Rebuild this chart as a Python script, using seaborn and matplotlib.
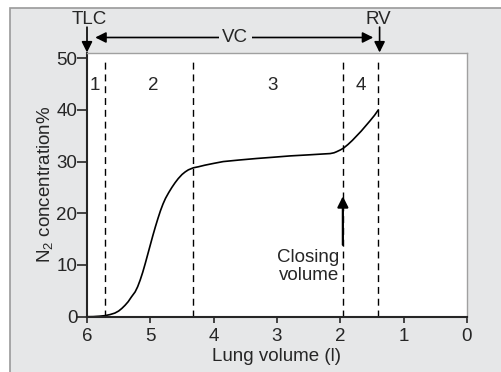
import matplotlib
matplotlib.use("Agg")
import matplotlib.pyplot as plt
import seaborn as sns
from matplotlib.patches import Rectangle

# Single-breath nitrogen washout curve
volume = [6.00, 5.90, 5.80, 5.72, 5.64, 5.56, 5.50, 5.45, 5.40, 5.35, 5.30,
          5.24, 5.20, 5.16, 5.12, 5.08, 5.04, 5.00, 4.96, 4.92, 4.88, 4.84,
          4.80, 4.76, 4.71, 4.66, 4.61, 4.56, 4.50, 4.45, 4.40, 4.32, 4.24,
          4.14, 4.00, 3.85, 3.60, 3.32, 3.05, 2.79, 2.50, 2.30, 2.16, 2.10,
          2.06, 2.00, 1.95, 1.88, 1.81, 1.74, 1.67, 1.60, 1.53, 1.46, 1.40]
n2_conc = [0.0, 0.02, 0.1, 0.2, 0.4, 0.7, 1.1, 1.6, 2.2, 2.9, 3.8,
           4.8, 5.8, 7.1, 8.6, 10.3, 12.1, 13.9, 15.7, 17.4, 19.0, 20.5,
           21.8, 22.9, 24.0, 25.0, 25.9, 26.7, 27.5, 28.0, 28.4, 28.8, 29.0,
           29.3, 29.65, 30.0, 30.3, 30.6, 30.85, 31.1, 31.3, 31.45, 31.55, 31.7,
           31.9, 32.25, 32.6, 33.3, 34.1, 35.0, 35.9, 36.9, 37.9, 38.95, 40.0]

phase_bounds = [5.72, 4.32, 1.96, 1.40]
phase_labels = ["1", "2", "3", "4"]
phase_label_x = [5.87, 4.96, 3.07, 1.67]

x_ticks = [6, 5, 4, 3, 2, 1, 0]
y_ticks = [0, 10, 20, 30, 40, 50]

sns.set_style("ticks")
plt.rcParams["font.family"] = ["Liberation Sans", "DejaVu Sans"]
plt.rcParams["mathtext.fontset"] = "custom"
plt.rcParams["mathtext.rm"] = "Liberation Sans"
plt.rcParams["mathtext.it"] = "Liberation Sans"

fs = 13.5
bg = "#e6e7e8"
fig = plt.figure(figsize=(5.01, 3.72), dpi=100, facecolor="white")
fig.patches.append(Rectangle((10 / 501, -0.1), 1.1, 1.1 - 8 / 372,
                             transform=fig.transFigure, facecolor=bg,
                             edgecolor="#9a9a9a", lw=1.2, zorder=-10))
ax = fig.add_axes([87 / 501, 55.3 / 372, 380 / 501, 263.7 / 372])
ax.set_facecolor("white")

sns.lineplot(x=volume, y=n2_conc, sort=False, color="black", lw=1.2, ax=ax)

for b in phase_bounds:
    ax.vlines(b, 0, 49.8, colors="black", linestyles=(0, (5, 3.5)), lw=1.0)
for lab, lx in zip(phase_labels, phase_label_x):
    ax.text(lx, 44.8, lab, ha="center", va="center", fontsize=fs)

ax.set_xlim(6, 0)
ax.set_ylim(0, 51)
ax.set_xticks(x_ticks)
ax.set_yticks(y_ticks)
ax.tick_params(axis="y", length=7, width=1.2, pad=0, labelsize=fs)
ax.tick_params(axis="x", length=4, width=1.2, pad=4, labelsize=fs)
for s in ["left", "bottom"]:
    ax.spines[s].set_linewidth(1.5)
for s in ["top", "right"]:
    ax.spines[s].set_color("#a0a0a0")
    ax.spines[s].set_linewidth(1.0)

ax.set_xlabel("Lung volume (l)", fontsize=fs, labelpad=2)
ax.set_ylabel("N$_2$ concentration%", fontsize=fs, labelpad=1)

# Closing volume marker
ax.annotate("", xy=(1.96, 23.3), xytext=(1.96, 13.9),
            arrowprops=dict(arrowstyle="-|>", color="black", lw=1.6,
                            mutation_scale=16, shrinkA=0, shrinkB=0))
ax.text(2.02, 9.7, "Closing\nvolume", ha="right", va="center", fontsize=fs,
        linespacing=1.05)

# TLC / RV / VC annotations above the plot
akw = dict(color="black", lw=1.2, mutation_scale=16, shrinkA=0, shrinkB=0)
ax.annotate("", xy=(6.0, 51.1), xytext=(6.0, 56.0), annotation_clip=False,
            arrowprops=dict(arrowstyle="-|>", **akw))
ax.annotate("", xy=(1.38, 51.1), xytext=(1.38, 56.0), annotation_clip=False,
            arrowprops=dict(arrowstyle="-|>", **akw))
ax.annotate("", xy=(5.87, 54.0), xytext=(1.48, 54.0), annotation_clip=False,
            arrowprops=dict(arrowstyle="<|-|>", **akw))
ax.text(5.97, 57.4, "TLC", ha="center", va="center", fontsize=fs, clip_on=False)
ax.text(1.40, 57.4, "RV", ha="center", va="center", fontsize=fs, clip_on=False)
ax.text(3.66, 54.0, "VC", ha="center", va="center", fontsize=fs, clip_on=False,
        bbox=dict(facecolor=bg, edgecolor="none", pad=2.5))

fig.savefig("out.png", dpi=100, facecolor="white")
